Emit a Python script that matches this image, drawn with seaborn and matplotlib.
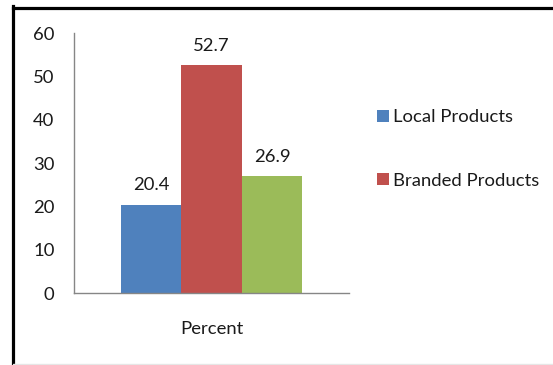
import matplotlib
matplotlib.use("Agg")
import matplotlib.pyplot as plt
from matplotlib.lines import Line2D
import seaborn as sns
import pandas as pd

group = ["Percent", "Percent", "Percent"]
categories = ["Local Products", "Branded Products", "Both"]
values = [20.4, 52.7, 26.9]
colors = ["#4F81BD", "#C0504D", "#9BBB59"]
y_ticks = [0, 10, 20, 30, 40, 50, 60]

sns.set_theme(style="white")
plt.rcParams["font.family"] = ["Lato", "DejaVu Sans"]

FS = 13.3
TXT = "#1a1a1a"

df = pd.DataFrame({"group": group, "category": categories, "value": values})

fig = plt.figure(figsize=(5.53, 3.65), dpi=100)
ax = fig.add_axes([74 / 553, 1 - 293 / 365, (349 - 74) / 553, (293 - 33) / 365])

sns.barplot(data=df, x="group", y="value", hue="category", hue_order=categories,
            palette=colors, width=0.66, saturation=1, linewidth=0, ax=ax, legend=True)

for c in ax.containers:
    ax.bar_label(c, fmt="%.1f", padding=8, fontsize=FS, color=TXT)

ax.set_ylim(0, 60)
ax.set_xlim(-0.5, 0.5)
ax.set_yticks(y_ticks)
ax.set_yticklabels([str(t) for t in y_ticks], fontsize=FS, color=TXT)
ax.set_xticks([-0.5, 0.5])
ax.set_xticklabels(["", ""])
ax.set_xticks([0], labels=["Percent"], minor=True)
ax.tick_params(axis="x", which="minor", length=0, pad=20, labelsize=FS, labelcolor=TXT)
ax.tick_params(axis="x", which="major", length=5, direction="out", color="#868686", width=1)
ax.tick_params(axis="y", length=5, direction="out", color="#868686", width=1, pad=9)
ax.set_xlabel("")
ax.set_ylabel("")
for s in ["top", "right"]:
    ax.spines[s].set_visible(False)
for s in ["left", "bottom"]:
    ax.spines[s].set_color("#868686")
    ax.spines[s].set_linewidth(1)

handles, labels = ax.get_legend_handles_labels()
for h in handles:
    h.set_linewidth(0)
ax.legend(handles[:2], labels[:2], loc="center left",
          bbox_to_anchor=(377 / 553, 1 - 149 / 365), bbox_transform=fig.transFigure,
          frameon=False, fontsize=FS, borderpad=0, borderaxespad=0,
          handlelength=0.65, handleheight=0.65, handletextpad=0.2, labelspacing=2.55,
          labelcolor=TXT)

# outer frame
fig.add_artist(Line2D([13 / 553, 13 / 553], [0, 1 - 6 / 365], transform=fig.transFigure,
                      color="black", linewidth=2.3, solid_capstyle="projecting"))
fig.add_artist(Line2D([13 / 553, 1], [1 - 7.5 / 365, 1 - 7.5 / 365], transform=fig.transFigure,
                      color="black", linewidth=2.3, solid_capstyle="projecting"))
fig.add_artist(Line2D([13 / 553, 1], [1.5 / 365, 1.5 / 365], transform=fig.transFigure,
                      color="#e6e6e6", linewidth=1))

fig.savefig("out.png", dpi=100)
